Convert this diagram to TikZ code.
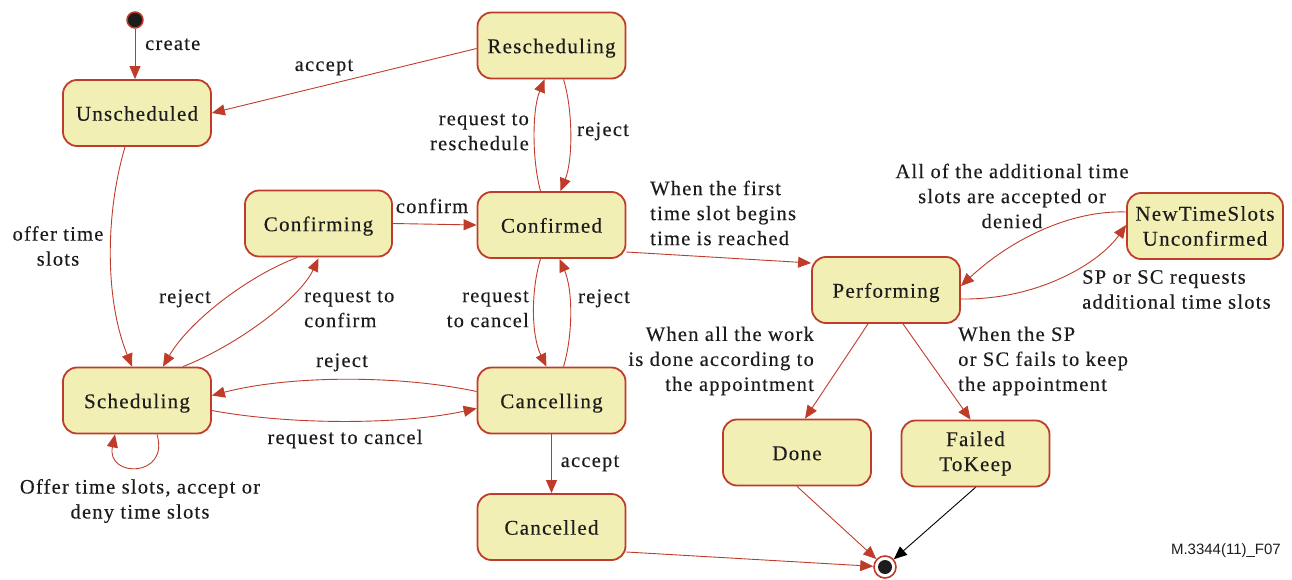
\documentclass[tikz,border=0pt]{standalone}
\usepackage{fontspec}
\setmainfont{Liberation Serif}[LetterSpace=6,FakeBold=0.3]
\setsansfont{Liberation Sans}
\usetikzlibrary{arrows.meta,calc}
\definecolor{bred}{RGB}{192,60,42}
\definecolor{bfill}{RGB}{242,239,180}
\definecolor{txt}{RGB}{28,28,28}
\begin{document}
\begin{tikzpicture}[x=1pt,y=-1pt,
  state/.style={draw=bred, line width=1.8pt, fill=bfill, rounded corners=14pt,
    minimum width=148pt, minimum height=66pt, text=txt,
    font=\fontsize{21}{25}\selectfont, align=center, inner sep=0pt},
  one/.style={text height=15.4pt, text depth=0pt},
  lbl/.style={text=txt, font=\fontsize{20.5}{25}\selectfont, inner sep=0pt},
  tr/.style={draw=bred, line width=0.9pt, -{Triangle[length=13pt,width=11pt]}},
  trk/.style={draw=black, line width=0.9pt, -{Triangle[length=13pt,width=11pt]}}]
\useasboundingbox (0,0) rectangle (1292,580);
% states
\node[state, one] (uns) at (137,113) {Unscheduled};
\node[state, one] (res) at (551.5,45.5) {Rescheduling};
\node[state, one, minimum width=147pt] (cfg) at (318.5,223.5) {Confirming};
\node[state, one] (cfd) at (551.5,225) {Confirmed};
\node[state, one] (sch) at (137,400.5) {Scheduling};
\node[state, one] (can) at (551.5,400.5) {Cancelling};
\node[state, one] (cld) at (551.5,527) {Cancelled};
\node[state, one] (per) at (886,290) {Performing};
\node[state, minimum width=156pt] (nts) at (1205,226) {NewTimeSlots\\Unconfirmed};
\node[state, one] (done) at (797,452.5) {Done};
\node[state] (ftk) at (975.5,453.5) {Failed\\ToKeep};
% pseudo states
\node[circle, draw=bred, line width=1.5pt, fill=txt, minimum size=16pt, inner sep=0pt] (ini) at (135,20) {};
\node[circle, draw=bred, line width=1.6pt, fill=white, minimum size=22pt, inner sep=0pt] (fin) at (885,567) {};
\node[circle, fill=txt, minimum size=14pt, inner sep=0pt] (fincore) at (fin) {};
% transitions
\draw[tr] (ini) -- (ini |- uns.north);
\draw[tr] ($(res.west)+(0,3)$) -- (uns.east);
\draw[tr] ($(uns.south)+(-12,0)$) .. controls (105,215) and (105,300) .. ($(sch.north)+(-5,0)$);
\draw[tr] (cfg.east) -- (cfd.west);
\draw[tr] ($(cfd.north)+(-11,0)$) .. controls (532,160) and (532,110) .. ($(res.south)+(-7,0)$);
\draw[tr] ($(res.south)+(12,0)$) .. controls (573,110) and (573,160) .. ($(cfd.north)+(9,0)$);
\draw[tr] ($(cfd.south)+(-11,0)$) .. controls (531,290) and (531,335) .. ($(can.north)+(-5,0)$);
\draw[tr] ($(can.north)+(12,0)$) .. controls (573,335) and (573,290) .. ($(cfd.south)+(8,0)$);
\draw[tr] ($(cfd.east)+(0,27)$) -- ($(per.west)+(0,-27)$);
\draw[tr] ($(sch.north)+(46,0)$) .. controls (238,345) and (300,298) .. ($(cfg.south)+(0,1)$);
\draw[tr] ($(cfg.south)+(-21,0)$) .. controls (250,275) and (190,320) .. ($(sch.north)+(26,0)$);
\draw[tr] ($(can.west)+(0,-9)$) .. controls (400,375) and (290,375) .. ($(sch.east)+(0,-5)$);
\draw[tr] ($(sch.east)+(0,10)$) .. controls (290,425) and (400,425) .. ($(can.west)+(0,8)$);
\draw[tr] ($(sch.south)+(20,0)$) .. controls (170,478) and (106,478) .. ($(sch.south)+(-22,0)$);
\draw[tr] (can.south) -- (cld.north);
\draw[tr] ($(cld.east)+(0,25)$) -- (fin);
\draw[tr] ($(per.south)+(-18,0)$) -- ($(done.north)+(8,0)$);
\draw[tr] ($(per.south)+(17,0)$) -- ($(ftk.north)+(-5,0)$);
\draw[tr] (done.south) -- (fin);
\draw[trk] (ftk.south) -- (fin);
\draw[tr] ($(per.east)+(0,9)$) .. controls (1040,300) and (1100,262) .. ($(nts.west)+(0,-1)$);
\draw[tr] ($(nts.west)+(0,-14)$) .. controls (1070,210) and (1010,240) .. ($(per.east)+(0,-4)$);
% labels
\node[lbl, anchor=base west] (lcreate) at (145,50) {create};
\node[lbl, anchor=base] (laccept) at (324,71) {accept};
\node[lbl, align=center] (loffer) at (58,246) {offer time\\slots};
\node[lbl, align=right, anchor=east] (lreqres) at (529,132) {request to\\reschedule};
\node[lbl, anchor=base] (lrej1) at (603,136) {reject};
\node[lbl, anchor=base] (lconfirm) at (432,213) {confirm};
\node[lbl, align=left, anchor=west] (lfirst) at (650,213) {When the first\\time slot begins\\time is reached};
\node[lbl, anchor=base] (lrej2) at (185,303) {reject};
\node[lbl, align=left, anchor=west] (lreqconf) at (304,309) {request to\\confirm};
\node[lbl, align=right, anchor=east] (lreqcan) at (529,309) {request\\to cancel};
\node[lbl, anchor=base] (lrej3) at (604,303) {reject};
\node[lbl, anchor=base] (lrej4) at (342,367) {reject};
\node[lbl, anchor=base] (lreqcan2) at (345,444) {request to cancel};
\node[lbl, align=center] (lself) at (140,501) {Offer time slots, accept or\\deny time slots};
\node[lbl, anchor=base] (laccept2) at (590,467) {accept};
\node[lbl, align=center] (lall) at (1012,196) {All of the additional time\\slots are accepted or\\denied};
\node[lbl, align=left, anchor=west] (lsp) at (1082,289.5) {SP or SC requests\\additional time slots};
\node[lbl, align=right, anchor=east] (lwork) at (814,361) {When all the work\\is done according to\\the appointment};
\node[lbl, align=left, anchor=west] (lfail) at (958,361) {When the SP\\or SC fails to keep\\the appointment};
\node[text=txt, font=\sffamily\fontsize{15}{18}\selectfont, anchor=east, inner sep=0pt] (fig) at (1281,551) {M.3344(11)\_F07};
\end{tikzpicture}
\end{document}
